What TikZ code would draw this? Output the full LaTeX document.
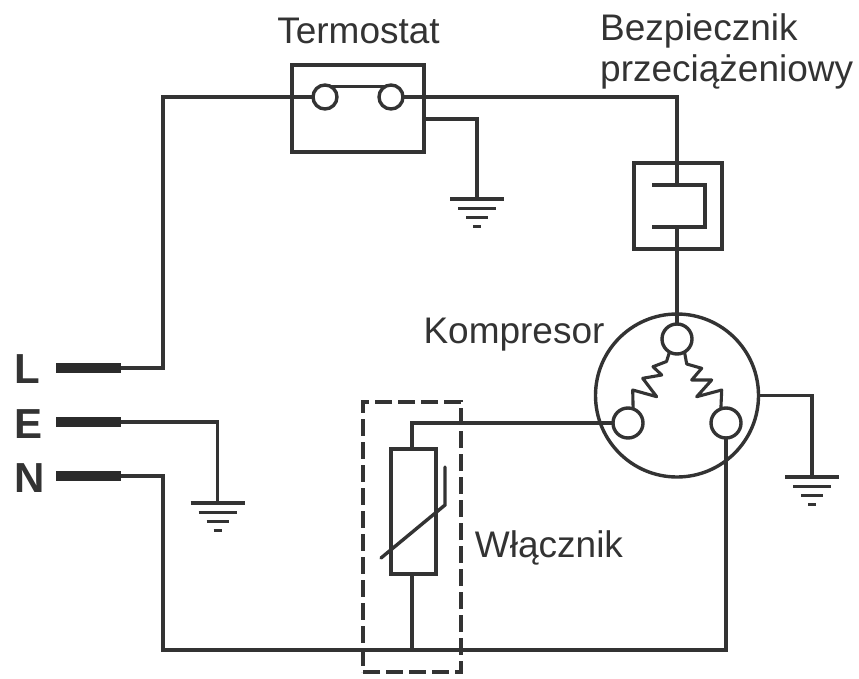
\documentclass[tikz,border=0pt]{standalone}
\usepackage{fontspec}
\setmainfont{Liberation Sans}
\definecolor{ink}{HTML}{333333}
\tikzset{
  wire/.style={draw=ink,line width=3.4pt,line join=miter},
  thinwire/.style={draw=ink,line width=3.1pt},
  plug/.style={draw=none,fill=ink!85!black,minimum width=65pt,minimum height=10.5pt,inner sep=0pt,outer sep=0pt},
  box/.style={draw=ink,line width=3.4pt,inner sep=0pt,outer sep=0pt},
  term/.style={draw=ink,line width=3.4pt,circle,fill=white,minimum size=27pt,inner sep=0pt,outer sep=0pt},
  hub/.style={draw=ink,line width=3.4pt,circle,minimum size=163pt,inner sep=0pt,outer sep=0pt},
  lbl/.style={inner sep=0pt,text=ink,font=\fontsize{37}{41}\selectfont,align=left},
  pole/.style={inner sep=0pt,text=ink,font=\fontsize{42}{46}\selectfont\bfseries},
  pics/earth/.style={code={
    \draw[draw=ink,line width=3.2pt] (-27,0) -- (27,0);
    \draw[draw=ink,line width=3.2pt] (-19,9.5) -- (19,9.5);
    \draw[draw=ink,line width=3.2pt] (-11,18.5) -- (11,18.5);
    \draw[draw=ink,line width=3.2pt] (-4,27.5) -- (4,27.5);
  }}
}
\begin{document}
\begin{tikzpicture}[x=1pt,y=-1pt]
\useasboundingbox (0,0) rectangle (859,679);
% labels
\node[lbl,anchor=center] (ltermo) at (358.5,31) {Termostat};
\node[lbl,anchor=north west] (lfuse) at (600,13) {Bezpiecznik\\przeciążeniowy};
\node[lbl,anchor=center] (lkomp) at (514,335) {Kompresor};
\node[lbl,anchor=center] (lwl) at (549,548) {Włącznik};
\node[pole,anchor=center] (lL) at (27,369) {L};
\node[pole,anchor=center] (lE) at (28.5,424) {E};
\node[pole,anchor=center] (lN) at (29.5,478) {N};
% plugs
\node[plug] (pL) at (88.5,368) {};
\node[plug] (pE) at (88.5,422) {};
\node[plug] (pN) at (88.5,476) {};
% thermostat
\node[box,minimum width=132pt,minimum height=87pt] (tbox) at (358,108.5) {};
\coordinate (tcorner) at (163,97);
\node[term,minimum size=24pt] (ta) at (325,97) {};
\node[term,minimum size=24pt] (tb) at (391,97) {};
\coordinate (tearthA) at (424,119);
\coordinate (tearthB) at (477,119);
\coordinate (tearthC) at (477,199);
\coordinate (fcorner) at (677,97);
% fuse
\node[box,minimum width=88pt,minimum height=86pt] (fbox) at (678,206) {};
\coordinate (f1) at (677,185);
\coordinate (f2) at (677,227);
\coordinate (fa) at (652,185);
\coordinate (fb) at (705,185);
\coordinate (fc) at (705,227);
\coordinate (fd) at (652,227);
% compressor
\node[hub] (comp) at (677,395.5) {};
\node[term,minimum size=30pt] (ct) at (677,339) {};
\node[term,minimum size=30pt] (cl) at (628,423) {};
\node[term,minimum size=30pt] (cr) at (726,423) {};
\coordinate (cearthA) at (812,395.5);
\coordinate (cearthB) at (812,477);
% switch
\node[box,minimum width=45pt,minimum height=125pt] (sw) at (413.5,511.5) {};
\coordinate (swtop) at (412,423);
\coordinate (swbot) at (412,650);
\coordinate (nbl) at (163,650);
\coordinate (nbr) at (726,650);
\coordinate (ecorner) at (217.5,422);
\coordinate (egnd) at (217.5,503);
\node[draw=ink,line width=3.2pt,dash pattern=on 17pt off 6pt,minimum width=98pt,minimum height=270pt,inner sep=0pt] (dash) at (412,537) {};
% wires
\draw[wire] (pL.east) -- (tcorner |- pL.east) -- (tcorner) -- (ta.west);
\draw[wire] (tb.east) -- (fcorner) -- (f1);
\draw[wire] (ta.60) -- (tb.120);
\draw[thinwire] (tearthA) -- (tearthB) -- (tearthC);
\draw[wire] (fa) -- (fb) -- (fc) -- (fd);
\draw[wire] (f2) -- (ct.north);
\draw[thinwire] (pE.east) -- (ecorner) -- (egnd);
\draw[wire] (pN.east) -- (tcorner |- pN.east) -- (nbl) -- (nbr) -- (cr.south);
\draw[thinwire] (cl.west) -- (swtop) -- (swtop |- sw.north);
\draw[wire] (swtop |- sw.south) -- (swbot);
\draw[thinwire] (comp.east) -- (cearthA) -- (cearthB);
\draw[thinwire,line join=round] (ct.240) -- (666.5,361.5) -- (653,366.7) -- (661.7,375) -- (642.7,378.3) -- (656.7,396.7) -- (632.7,390) -- (cl.70);
\draw[thinwire,line join=round] (ct.300) -- (686.7,364) -- (701.7,368.3) -- (691.7,380) -- (711.7,380) -- (696.7,396.7) -- (721.7,390) -- (cr.110);
\draw[wire,line cap=round] (381,558) -- (445,505) -- (445,467);
% earth symbols
\pic at (tearthC) {earth};
\pic at (egnd) {earth};
\pic at (cearthB) {earth};
\end{tikzpicture}
\end{document}
